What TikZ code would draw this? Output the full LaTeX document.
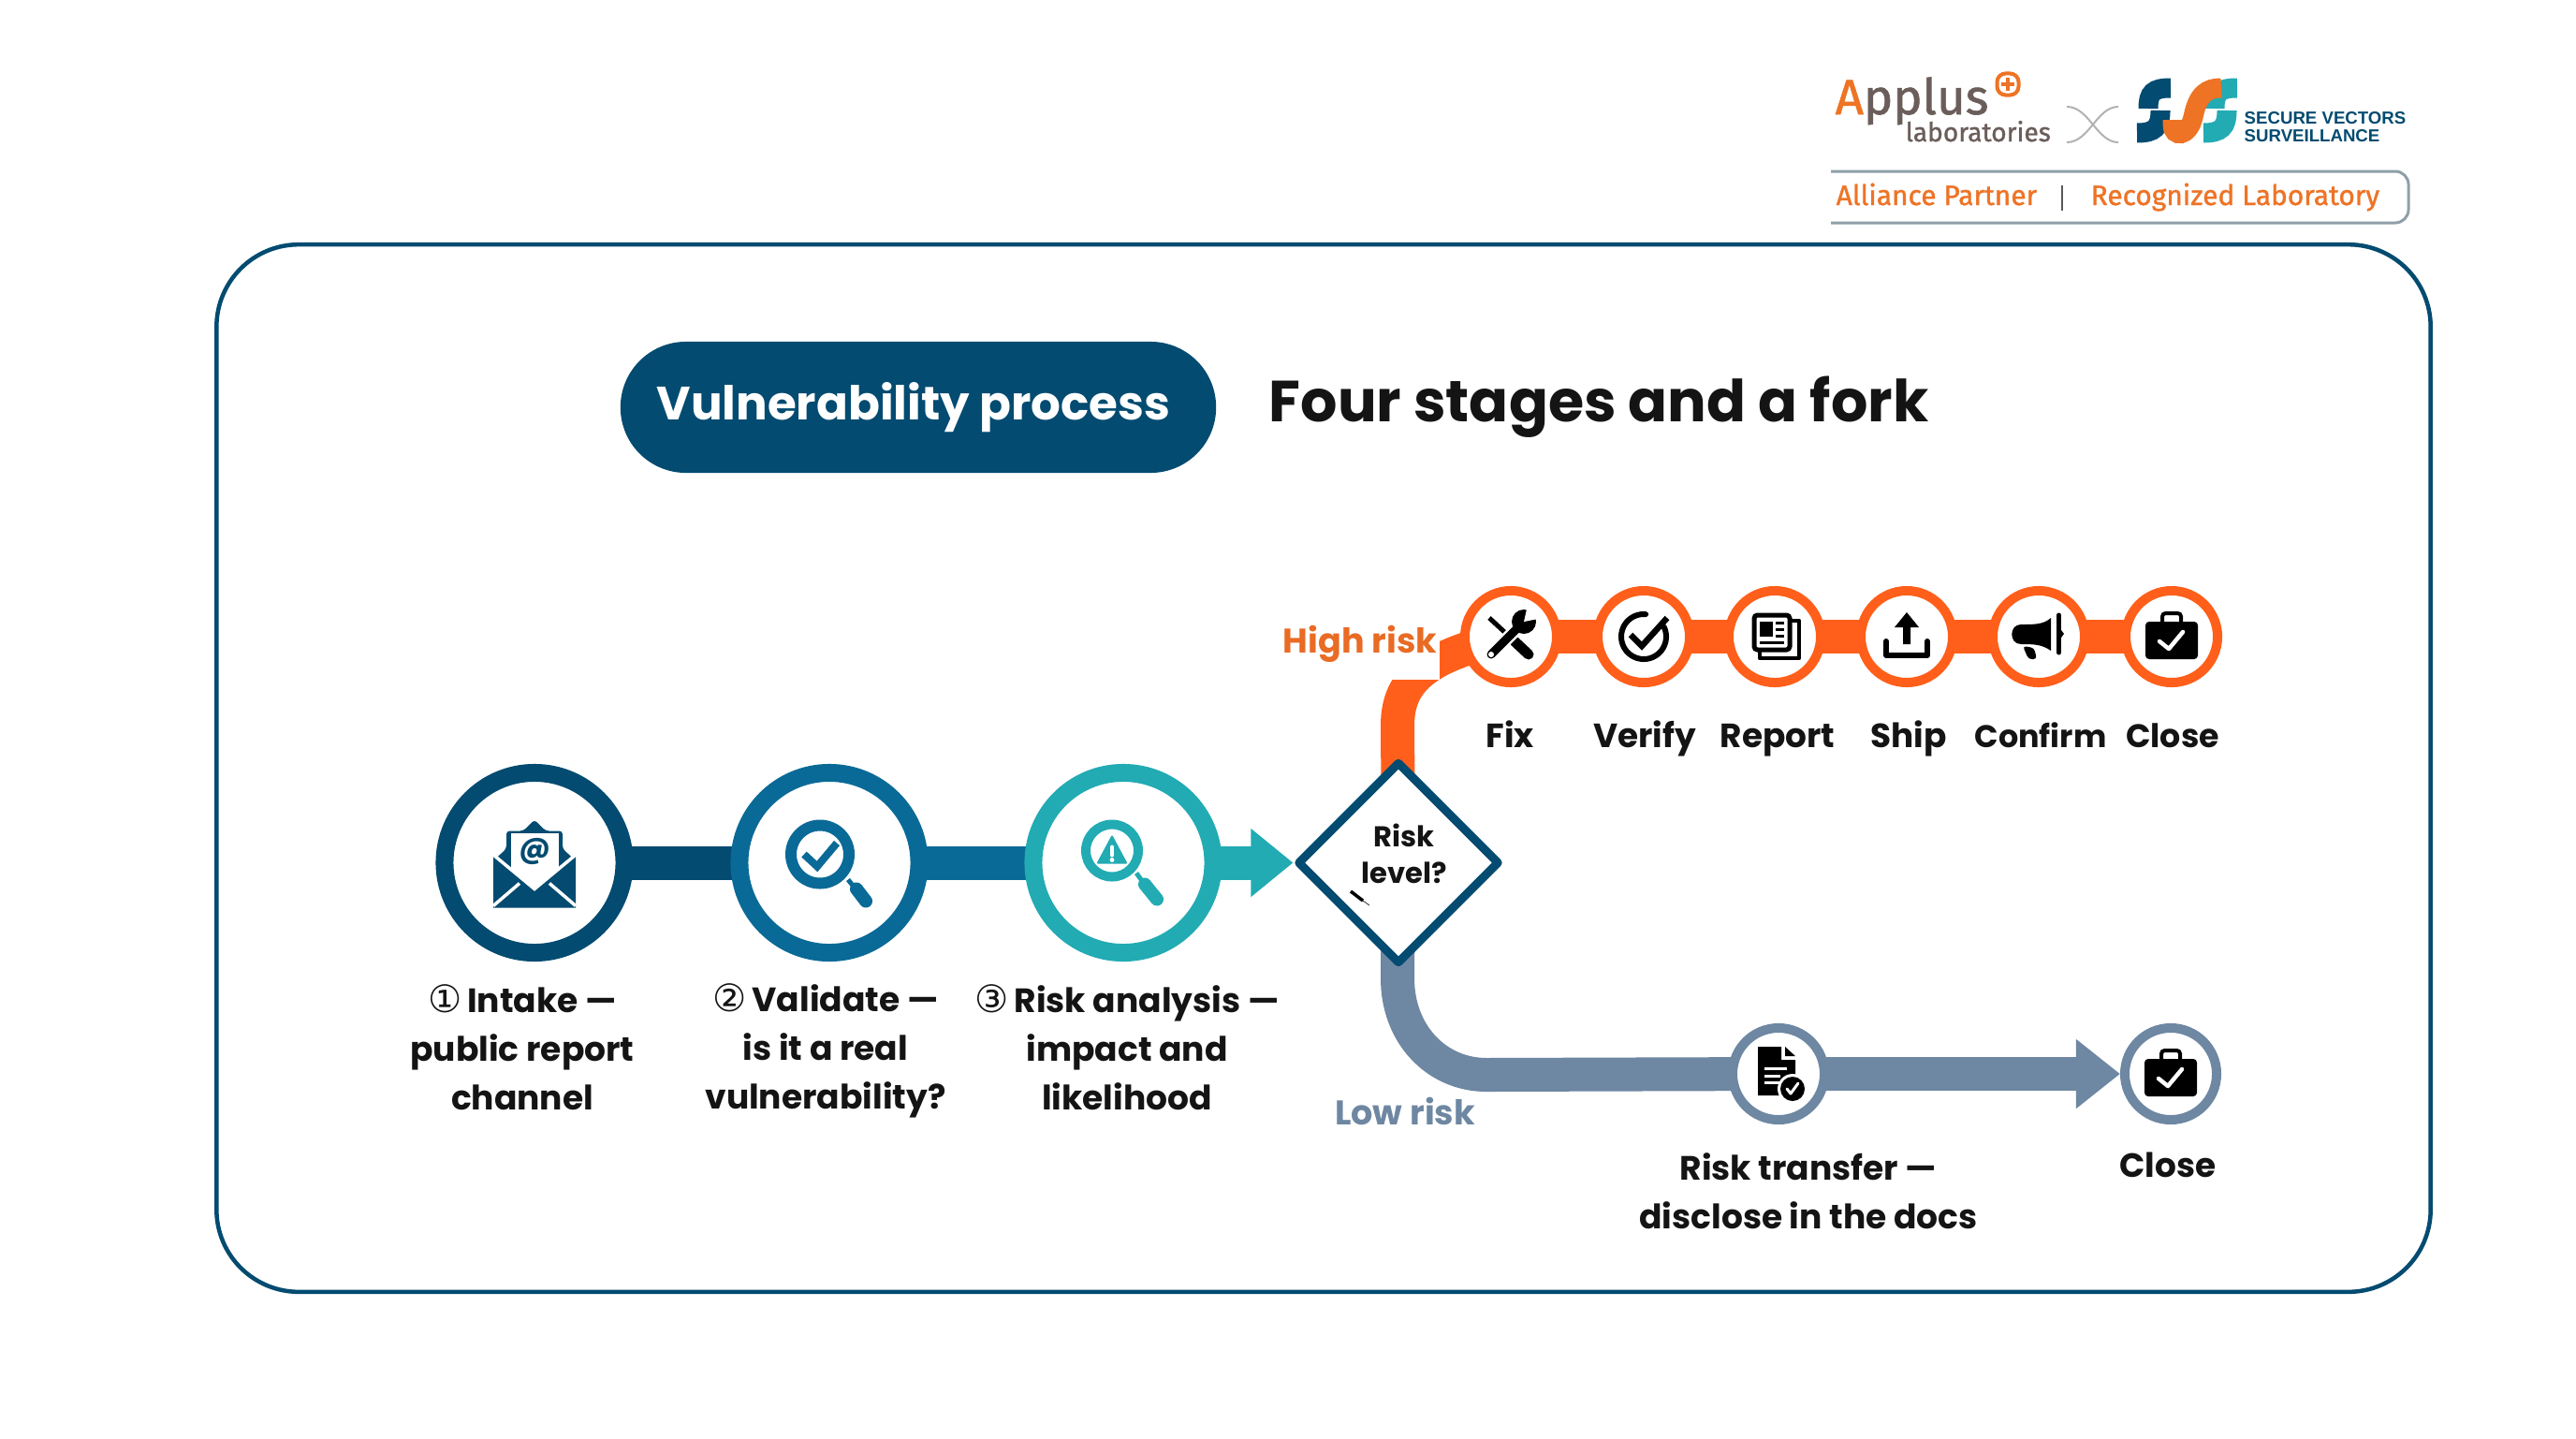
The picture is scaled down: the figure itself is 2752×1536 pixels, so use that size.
\documentclass[tikz,border=0pt]{standalone}
\usepackage{fontspec}
\usetikzlibrary{arrows.meta,shapes.geometric,backgrounds}
\setmainfont{Poppins}
\newfontfamily\pop{Poppins}
\newfontfamily\fira{Fira Sans}
\newfontfamily\firaheavy{Fira Sans}[FakeBold=1.2]
\newfontfamily\circfont{DejaVu Sans}
\newfontfamily\libs{Liberation Sans}
\definecolor{navy}{HTML}{034B70}
\definecolor{midblue}{HTML}{0A6A97}
\definecolor{teal2}{HTML}{22ABB3}
\definecolor{orng}{HTML}{FF5F1A}
\definecolor{orngtxt}{HTML}{E96B24}
\definecolor{steel}{HTML}{6E87A2}
\definecolor{ink}{HTML}{141414}
\definecolor{logogray}{HTML}{6B5E5A}
\definecolor{logoorng}{HTML}{EE7325}
\definecolor{badgeline}{HTML}{8E9FA8}
\tikzset{
  x=0.01cm,y=-0.01cm,
  ringbig/.style={circle,fill=white,draw=#1,line width=.19cm,minimum size=1.92cm,inner sep=0},
  ringsmall/.style={circle,fill=white,draw=#1,line width=.10cm,minimum size=.98cm,inner sep=0},
  bar/.style={draw=#1,line width=.36cm},
  lbl/.style={inner sep=0,text=ink,align=center,font=\pop\bfseries\fontsize{10.25}{14.8}\selectfont},
  sublbl/.style={inner sep=0,text=ink,anchor=base,font=\pop\bfseries\fontsize{10.2}{14.8}\selectfont},
  ic/.style={line cap=round,line join=round},
}
\newcommand{\briefcaseicon}{%
  \fill[black,rounded corners=1.1pt] (-28,-16) rectangle (28,24);
  \draw[black,line width=.04cm,rounded corners=1pt] (-10,-15) -- (-10,-25) -- (10,-25) -- (10,-15);
  \draw[white,ic,line width=.045cm] (-13,5) -- (-3,13) -- (12,-5);
}
\begin{document}
\begin{tikzpicture}
\useasboundingbox (0,0) rectangle (2752,1536);
% frame
\node[draw=navy,line width=.045cm,rounded corners=25pt,minimum width=23.64cm,minimum height=11.18cm,inner sep=0] (frame) at (1414,820.5) {};
% heading
\node[fill=navy,rounded corners=19.9pt,minimum width=6.36cm,minimum height=1.40cm,inner sep=0,text=white,font=\pop\bfseries\fontsize{14.2}{16}\selectfont] (pill) at (981,435) {\hspace*{-.1cm}Vulnerability process};
\node[inner sep=0,text=ink,anchor=base west,font=\pop\bfseries\fontsize{17.6}{20}\selectfont] (title) at (1355,450) {Four stages and a fork};
% stage rings
\node[ringbig=navy] (c1) at (571,921.5) {};
\node[ringbig=midblue] (c2) at (886,921.5) {};
\node[ringbig=teal2] (c3) at (1200,921.5) {};
\node[diamond,aspect=1,draw=navy,line width=.09cm,line join=round,fill=white,minimum width=2.16cm,minimum height=2.16cm,inner sep=0] (d) at (1494,921.5) {};
\node[inner sep=0,text=ink,align=center,font=\pop\bfseries\fontsize{8.7}{10.9}\selectfont] (dtext) at (1500,912) {Risk\\level?};
% high branch rings
\node[ringsmall=orng] (h1) at (1614,680) {};
\node[ringsmall=orng] (h2) at (1756,680) {};
\node[ringsmall=orng] (h3) at (1896,680) {};
\node[ringsmall=orng] (h4) at (2037,680) {};
\node[ringsmall=orng] (h5) at (2178,680) {};
\node[ringsmall=orng] (h6) at (2320,680) {};
% low branch rings
\node[ringsmall=steel] (l1) at (1900,1147) {};
\node[ringsmall=steel] (l2) at (2319,1147) {};
% connectors underneath
\coordinate (hup) at (1493,775);
\coordinate (lowdown) at (1493,1045);
\coordinate (lowflat) at (1588,1148);
\begin{scope}[on background layer]
  \fill[white] (0,0) rectangle (2752,1536);
  \draw[bar=navy] (c1.center) -- (c2.center);
  \draw[bar=midblue] (c2.center) -- (c3.center);
  \draw[bar=teal2,-{Triangle[length=.45cm,width=.70cm]}] (c3.center) -- (d.west);
  \draw[bar=orng] (d.center) -- (hup) .. controls (1493,725) and (1525,700) .. (h1.center);
  \draw[bar=orng] (h1.center) -- (h2.center) -- (h3.center) -- (h4.center) -- (h5.center) -- (h6.center);
  \draw[bar=steel] (d.center) -- (lowdown) .. controls (1493,1105) and (1535,1148) .. (lowflat) -- (l1.center);
  \draw[bar=steel,-{Triangle[length=.47cm,width=.71cm]}] (l1.center) -- (l2.west);
\end{scope}
% branch labels
\node[fill=white,inner sep=0,minimum width=1.68cm,minimum height=.76cm] (hmask) at (1454,688) {};
\node[inner sep=0,anchor=base,text=orngtxt,font=\pop\bfseries\fontsize{10.4}{12}\selectfont] (hr) at (1453,697) {High risk};
\node[inner sep=0,anchor=base,text=steel,font=\pop\bfseries\fontsize{10.4}{12}\selectfont] (lr) at (1501,1201) {Low risk};
% stage labels
\node[lbl] (t1) at (558,1119) {{\circfont\fontsize{11.5}{14.8}\selectfont\mdseries ①}\,Intake —\\public report\\channel};
\node[lbl] (t2) at (882,1122) {{\circfont\fontsize{11.5}{14.8}\selectfont\mdseries ②}\,Validate —\\is it a real\\vulnerability?};
\node[lbl] (t3) at (1204,1119) {{\circfont\fontsize{11.5}{14.8}\selectfont\mdseries ③}\,Risk analysis —\\impact and\\likelihood};
\node[sublbl] (fix) at (1613,798) {Fix};
\node[sublbl] (ver) at (1757,798) {Verify};
\node[sublbl] (rep) at (1899,798) {Report};
\node[sublbl] (shp) at (2039,798) {Ship};
\node[sublbl,font=\pop\bfseries\fontsize{9.5}{14.8}\selectfont] (cnf) at (2180,798) {Confirm};
\node[sublbl,font=\pop\bfseries\fontsize{9.9}{14.8}\selectfont] (cls) at (2321,798) {Close};
\node[lbl] (rt) at (1932,1272) {Risk transfer —\\disclose in the docs};
\node[sublbl] (cl2) at (2316,1257) {Close};
% icon 1 envelope
\begin{scope}[shift={(c1.center)}]
  \fill[navy,rounded corners=1pt] (0,-46) -- (-12,-34) -- (-30,-34) -- (-30,-15) -- (-42,-4) -- (0,40) -- (42,-4) -- (30,-15) -- (30,-34) -- (12,-34) -- cycle;
  \fill[white] (-25,-32) rectangle (26,30);
  \fill[navy] (-44,-7) -- (0,28) -- (44,-7) -- (44,48) -- (-44,48) -- cycle;
  \draw[white,line width=.035cm] (-47,-11) -- (0,28) -- (47,-11);
  \draw[white,line width=.035cm] (-16,22) -- (-44,46);
  \draw[white,line width=.035cm] (16,22) -- (44,46);
  \node[inner sep=0,text=navy,font=\pop\bfseries\fontsize{9}{10}\selectfont] (at1) at (1,-12) {@};
\end{scope}
% icon 2 check lens
\begin{scope}[shift={(c2.center)}]
  \draw[midblue,line width=.12cm] (-10,-9) circle[radius=31];
  \draw[midblue,line width=.05cm] (20,18) -- (28,28);
  \draw[midblue,ic,line width=.14cm] (29,28) -- (39,41);
  \draw[midblue,line width=.08cm,line join=miter] (-27,-9) -- (-13,4) -- (8,-21);
\end{scope}
% icon 3 warning lens
\begin{scope}[shift={(c3.center)}]
  \draw[teal2,line width=.10cm] (-12,-13) circle[radius=28];
  \draw[teal2,line width=.05cm] (14,11) -- (22,22);
  \draw[teal2,ic,line width=.14cm] (23,23) -- (36,39);
  \fill[teal2,draw=teal2,line join=round,line width=.02cm] (-12,-28) -- (-27,0) -- (3,0) -- cycle;
  \draw[white,line width=.04cm,line cap=round] (-12,-17) -- (-12,-8);
  \fill[white] (-12,-3) circle[radius=2.4];
\end{scope}
% icon fix
\begin{scope}[shift={(h1.center)},xshift=-.02cm]
  \draw[black,line width=.05cm] (-21,-20) -- (5,4);
  \draw[black,ic,line width=.11cm] (6,5) -- (21,19);
  \draw[white,line width=.14cm] (-9,9) -- (7,-7);
  \draw[black,ic,line width=.09cm] (-19,19) -- (13,-13);
  \fill[black] (16,-16) circle[radius=13];
  \fill[white] (16,-16) -- (20,-34) -- (36,-20) -- cycle;
  \fill[white] (-19,19) circle[radius=3];
\end{scope}
% icon verify
\begin{scope}[shift={(h2.center)}]
  \draw[black,line width=.06cm,line cap=round] plot[domain=-25:275,samples=50,smooth] ({24*cos(\x)},{24*sin(\x)});
  \draw[black,line width=.065cm,line join=miter] (-14,-2) -- (-2,10) -- (25,-20);
\end{scope}
% icon report
\begin{scope}[shift={(h3.center)}]
  \draw[black,ic,line width=.045cm] (19,-17) -- (26,-17) -- (26,23) -- (-16,23) -- (-16,17);
  \draw[black,line width=.05cm,rounded corners=1pt] (-22,-23) rectangle (16,14);
  \fill[black] (-16,-16) rectangle (-2,0);
  \draw[black,line width=.03cm] (1,-15) -- (10,-15) (1,-8) -- (10,-8) (1,-1) -- (10,-1) (-16,6) -- (10,6);
\end{scope}
% icon ship
\begin{scope}[shift={(h4.center)}]
  \fill[black] (0,-26) -- (13,-10) -- (4,-10) -- (4,8) -- (-4,8) -- (-4,-10) -- (-13,-10) -- cycle;
  \draw[black,ic,line width=.06cm] (-22,5) -- (-22,20) -- (22,20) -- (22,5);
\end{scope}
% icon confirm
\begin{scope}[shift={(h5.center)}]
  \fill[black] (-19,-13) .. controls (-4,-13) and (5,-13) .. (13,-20) -- (13,15) .. controls (3,8) and (-6,8) .. (-19,8) .. controls (-32,8) and (-32,-13) .. (-19,-13) -- cycle;
  \draw[black,ic,line width=.05cm] (21.5,-23) -- (21.5,17);
  \fill[black] (24,-7) -- (27,-3) -- (24,1) -- cycle;
  \fill[black,rounded corners=1pt] (-17,10) -- (-5,12) -- (-2,24) -- (-11,24) -- cycle;
\end{scope}
% icon close
\begin{scope}[shift={(h6.center)}]
  \briefcaseicon
\end{scope}
% icon document
\begin{scope}[shift={(l1.center)}]
  \fill[black] (-22,-29) -- (3,-29) -- (3,-15) -- (18,-15) -- (18,23) -- (-22,23) -- cycle;
  \fill[black] (7,-29) -- (18,-19) -- (7,-19) -- cycle;
  \draw[white,line width=.03cm] (-15,-6) -- (9,-6) (-15,2) -- (2,2) (-15,9) -- (4,9);
  \fill[white] (15,16) circle[radius=16];
  \fill[black] (15,16) circle[radius=13];
  \draw[white,ic,line width=.03cm] (9,16) -- (13,21) -- (21,10);
\end{scope}
% icon close low
\begin{scope}[shift={(l2.center)}]
  \briefcaseicon
\end{scope}
% top-right logos
\node[inner sep=0,anchor=base west,font=\firaheavy\fontsize{15}{18}\selectfont,text=logogray] (applus) at (1960,122) {\textcolor{logoorng}{A}pplus};
\node[draw=logoorng,line width=.04cm,rounded corners=2.6pt,minimum size=.23cm,inner sep=0] (pluss) at (2145,90) {};
\draw[logoorng,line width=.035cm] (2138,90) -- (2152,90) (2145,83) -- (2145,97);
\node[inner sep=0,anchor=base west,font=\firaheavy\fontsize{8}{10}\selectfont,text=logogray] (labs) at (2035,151) {laboratories};
\draw[gray!60,line width=.02cm] (2208,114) .. controls (2232,114) and (2240,152) .. (2263,152);
\draw[gray!60,line width=.02cm] (2208,152) .. controls (2232,152) and (2240,114) .. (2263,114);
% SVS mark
\draw[navy,line width=.21cm] (2319,94) .. controls (2300,94) and (2295,99) .. (2295,116);
\draw[navy,line width=.21cm] (2308,118) .. controls (2308,136) and (2302,142) .. (2283,142);
\draw[teal2,line width=.21cm] (2390,94) .. controls (2371,94) and (2366,99) .. (2366,116);
\draw[teal2,line width=.21cm] (2379,118) .. controls (2379,136) and (2373,142) .. (2354,142);
\draw[logoorng,line width=.21cm] (2321,128) -- (2321,133) .. controls (2321,147) and (2338,147) .. (2343,125) .. controls (2348,100) and (2358,94) .. (2373,94);
\node[inner sep=0,anchor=base west,font=\libs\bfseries\fontsize{5.3}{6}\selectfont,text=navy] (svs1) at (2397,132) {SECURE VECTORS};
\node[inner sep=0,anchor=base west,font=\libs\bfseries\fontsize{5.3}{6}\selectfont,text=navy] (svs2) at (2397,151) {SURVEILLANCE};
% badge
\draw[badgeline,line width=.03cm,rounded corners=4pt] (1956,183) -- (2573,183) -- (2573,238) -- (1956,238);
\node[inner sep=0,anchor=base west,font=\firaheavy\fontsize{8.5}{9}\selectfont,text=logoorng] (ap) at (1961,219) {Alliance Partner};
\node[inner sep=0,anchor=base west,font=\firaheavy\fontsize{8.5}{9}\selectfont,text=logoorng] (rl) at (2233,219) {Recognized Laboratory};
\draw[gray!70!black,line width=.02cm] (2203,198) -- (2203,225);
% stray cursor mark inside the diamond
\draw[black,line width=.035cm] (1443,952) -- (1456,962);
\draw[black,line width=.006cm] (1456,962) -- (1463,967);
\end{tikzpicture}
\end{document}
